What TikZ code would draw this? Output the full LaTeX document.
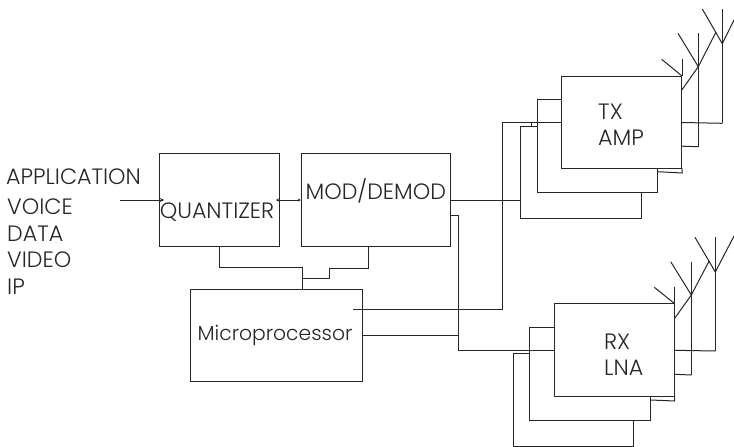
\documentclass[tikz,border=0pt]{standalone}
\usepackage{fontspec}
\setmainfont{Poppins Light}
\usetikzlibrary{arrows.meta}
\tikzset{
  blockbox/.style={draw=black!85,fill=white,line width=1pt,inner sep=0pt},
  wire/.style={draw=black!85,line width=1pt},
  lbl/.style={inner sep=0pt,font=\fontsize{22.2}{26}\selectfont,text=black!85},
}
\begin{document}
\begin{tikzpicture}[x=1pt,y=-1pt]
  \newcommand{\antenna}[6]{%
    % stem x, top y, foot y, left x, fork y, right arm end
    \coordinate (#1top) at (#2,#3);
    \coordinate (#1foot) at (#2,#4);
    \coordinate (#1fork) at (#2,#6);
    \draw[wire] (#1top) -- (#1foot);
    \draw[wire] (#5,#3) -- (#1fork);}
  \useasboundingbox (0,0) rectangle (734,447);
  % main blocks
  \node[blockbox,minimum width=120pt,minimum height=92.6pt] (quant) at (219,200) {};
  \node[blockbox,minimum width=149pt,minimum height=92.6pt] (mod) at (375.8,200) {};
  \node[blockbox,minimum width=172pt,minimum height=92.3pt] (micro) at (276.7,335.2) {};
  % TX stack
  \node[blockbox,minimum width=120.6pt,minimum height=92.3pt] (txc) at (581,172.2) {};
  \node[blockbox,minimum width=120.4pt,minimum height=92.6pt] (txb) at (597.5,146) {};
  \node[blockbox,minimum width=120.7pt,minimum height=92.3pt] (txa) at (621.6,122.2) {};
  % RX stack
  \node[blockbox,minimum width=120.4pt,minimum height=92.6pt] (rxc) at (573.5,400) {};
  \node[blockbox,minimum width=120.7pt,minimum height=92.6pt] (rxb) at (590.3,374) {};
  \node[blockbox,minimum width=120.4pt,minimum height=92.3pt] (rxa) at (614.5,349.9) {};
  % labels
  \node[lbl] (apptext) at (73.5,177) {APPLICATION};
  \node[lbl,anchor=west] (voicetext) at (7,207) {VOICE};
  \node[lbl,anchor=west] (datatext) at (7,234) {DATA};
  \node[lbl,anchor=west] (videotext) at (7,260) {VIDEO};
  \node[lbl,anchor=west] (iptext) at (7,287) {IP};
  \node[lbl] (quanttext) at (217,211.7) {QUANTIZER};
  \node[lbl] (modtext) at (375.8,190.7) {MOD/DEMOD};
  \node[lbl,font=\fontsize{20.3}{24}\selectfont] (microtext) at (275,335) {Microprocessor};
  \node[lbl,anchor=west] (txtext) at (598,112) {TX};
  \node[lbl,anchor=west] (amptext) at (598,138) {AMP};
  \node[lbl,anchor=west] (rxtext) at (604,341.7) {RX};
  \node[lbl,anchor=west] (lnatext) at (604,367.7) {LNA};
  % signal path
  \coordinate (appin) at (120,200);
  \draw[wire,-{Stealth[length=4pt,width=4pt]}] (appin) -- (164,200);
  \draw[wire,{Stealth[length=3pt,width=3pt]}-{Stealth[length=3pt,width=3pt]}] (276,200) -- (mod.west);
  \draw[wire] (mod.east) -- (txc.west |- mod.east);
  % control lines
  \coordinate (qbend) at (219,267.3);
  \coordinate (mbend) at (368.3,268.3);
  \coordinate (mstep) at (329.3,278.7);
  \coordinate (mtop) at (302.3,289);
  \draw[wire] (quant.south) -- (qbend) -- (qbend -| mtop) -- (mtop);
  \draw[wire] (mod.south -| mbend) -- (mbend) -- (mbend -| mstep) -- (mstep) -- (mstep -| mtop);
  % to the stacks
  \coordinate (rxdrop) at (458.5,350);
  \draw[wire] (450.3,215) -- (458.5,215) -- (rxdrop) -- (rxa.west |- rxdrop);
  \draw[wire] (micro.east |- 0,335.3) -- (458.5,335.3);
  \coordinate (txrise) at (502.5,122.3);
  \draw[wire] (353,309.3) -- (502.5,309.3) -- (txrise) -- (txa.west |- txrise);
  \draw[wire] (531.7,126) -- (531.7,122.3);
  % antennas TX
  \antenna{ta}{682}{59.3}{76}{661.7}{76}
  \draw[wire] (682,89.7) -- (698.3,66.7);
  \antenna{tb}{698.3}{33.3}{146.7}{678}{66.7}
  \draw[wire] (tbfork) -- (716,32);
  \antenna{tc}{722.3}{9}{123.3}{702.3}{43.7}
  \draw[wire] (tcfork) -- (734,20);
  \draw[wire] (tbfoot) -- (682,146.2);
  \draw[wire] (tcfoot) -- (682,122.5);
  \draw[wire] (657.7,171.7) -- (682,173) -- (682,168.4);
  % antennas RX
  \antenna{ra}{674.7}{287.3}{303.7}{654.3}{303.7}
  \draw[wire] (674.7,318.3) -- (691.3,295);
  \antenna{rb}{691.3}{261.7}{375}{670.7}{295}
  \draw[wire] (rbfork) -- (709.3,260.7);
  \antenna{rc}{715.3}{237.3}{351}{695}{272}
  \draw[wire] (rcfork) -- (734,236);
  \draw[wire] (rbfoot) -- (674.7,374.3);
  \draw[wire] (rcfoot) -- (674.7,350.3);
  \draw[wire] (650.7,400) -- (674.7,401) -- (674.7,396);
\end{tikzpicture}
\end{document}
